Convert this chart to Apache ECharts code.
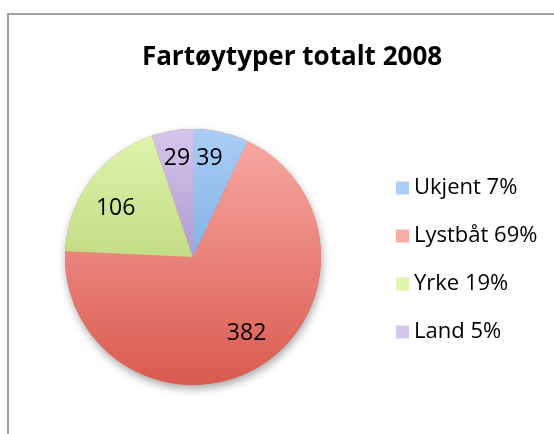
<!DOCTYPE html>
<html>
<head>
<meta charset="utf-8">
<script src="https://cdn.jsdelivr.net/npm/echarts@6/dist/echarts.min.js"></script>
<style>
  html, body { margin: 0; padding: 0; background: #fff; }
  #main { width: 554px; height: 434px; }
</style>
</head>
<body>
<div id="main"></div>
<script>
var titleText = 'Fartøytyper totalt 2008';
var categories = ['Ukjent', 'Lystbåt', 'Yrke', 'Land'];
var values = [39, 382, 106, 29];
// top / bottom colours of each slice's vertical gradient
var topColors = ['#abcdf6', '#f9aba6', '#e0f5ae', '#d5c6ec'];
var bottomColors = ['#5a98d6', '#da5a4f', '#a3c55c', '#8c6db4'];
// small label nudges (px) to match the original placement
var labelNudge = [[-5, -3], [3, -7], [1, 10], [0, -2]];

var total = values.reduce(function (a, b) { return a + b; }, 0);
var cx = 193, cy = 257, R = 128;
var font = 'Open Sans';

function grad(i) {
    return new echarts.graphic.LinearGradient(0, cy - R, 0, cy + R, [
        { offset: 0, color: topColors[i] },
        { offset: 1, color: bottomColors[i] }
    ], true);
}

var pieData = categories.map(function (name, i) {
    return { name: name, value: values[i], itemStyle: { color: grad(i) } };
});
var labelData = categories.map(function (name, i) {
    return { name: name, value: values[i] };
});

var myChart = echarts.init(document.getElementById('main'));
myChart.setOption({
    animation: false,
    title: {
        text: titleText,
        left: 287,
        textAlign: 'center',
        top: 40,
        textStyle: {
            fontFamily: font,
            fontWeight: 'bold',
            fontSize: 26,
            color: '#000'
        }
    },
    legend: {
        orient: 'vertical',
        left: 391,
        top: 172,
        itemWidth: 13,
        itemHeight: 13,
        itemGap: 26,
        icon: 'rect',
        data: categories,
        formatter: function (name) {
            var v = values[categories.indexOf(name)];
            return name + ' ' + Math.round(v / total * 100) + '%';
        },
        textStyle: {
            fontFamily: font,
            fontSize: 22,
            color: '#000',
            padding: [0, 0, 0, 0]
        }
    },
    graphic: [{
        type: 'rect',
        shape: { x: 8, y: 14, width: 600, height: 500 },
        style: { fill: 'none', stroke: '#a0a0a0', lineWidth: 2 },
        silent: true
    }],
    series: [
        {
            // soft drop shadow under the whole pie
            type: 'pie',
            silent: true,
            center: [cx, cy],
            radius: R,
            label: { show: false },
            legendHoverLink: false,
            data: [{ name: '_shadow', value: 1 }],
            itemStyle: {
                color: '#e06a60',
                shadowBlur: 8,
                shadowOffsetY: 4,
                shadowOffsetX: 1,
                shadowColor: 'rgba(0,0,0,0.35)'
            }
        },
        {
            name: titleText,
            type: 'pie',
            center: [cx, cy],
            radius: R,
            startAngle: 90,
            clockwise: true,
            label: { show: false },
            labelLine: { show: false },
            itemStyle: { borderWidth: 0 },
            emphasis: { disabled: true },
            data: pieData
        },
        {
            // transparent ring that only carries the value labels
            type: 'pie',
            silent: true,
            center: [cx, cy],
            radius: [62, R],
            startAngle: 90,
            clockwise: true,
            itemStyle: { color: 'rgba(0,0,0,0)' },
            label: {
                show: true,
                position: 'inside',
                formatter: '{c}',
                fontFamily: font,
                fontSize: 23,
                color: '#000'
            },
            labelLayout: function (params) {
                var n = labelNudge[params.dataIndex];
                return { dx: n[0], dy: n[1] };
            },
            labelLine: { show: false },
            legendHoverLink: false,
            data: labelData
        }
    ]
});
</script>
</body>
</html>
